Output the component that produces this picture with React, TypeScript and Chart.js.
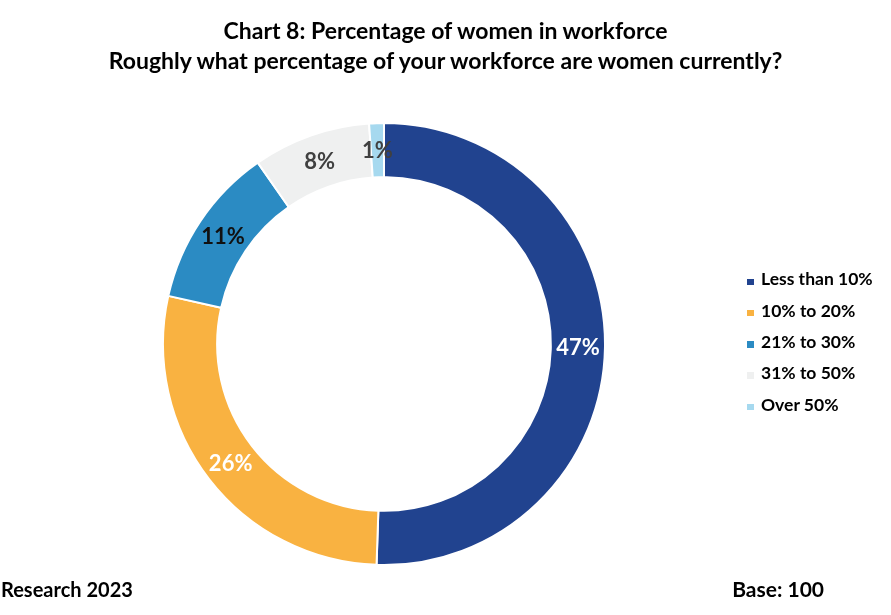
import React, { useEffect, useRef } from "react";
import { Chart, registerables } from "chart.js";

Chart.register(...registerables);

const categories = ["Less than 10%", "10% to 20%", "21% to 30%", "31% to 50%", "Over 50%"];
const values = [47, 26, 11, 8, 1];
const colors = ["#21438F", "#F9B241", "#2B8BC3", "#EFF0F0", "#A6D9EF"];
const labelColors = ["#FFFFFF", "#FFFFFF", "#111111", "#404040", "#404040"];
const titleLines = [
  "Chart 8: Percentage of women in workforce",
  "Roughly what percentage of your workforce are women currently?",
];
const sourceText = "Research 2023";
const baseText = "Base: 100";

const FONT = "Lato, 'Open Sans', sans-serif";

const sliceLabels = {
  id: "sliceLabels",
  afterDatasetsDraw(chart: any) {
    const ctx = chart.ctx;
    const meta = chart.getDatasetMeta(0);
    ctx.save();
    ctx.font = `bold 22px ${FONT}`;
    ctx.textAlign = "center";
    ctx.textBaseline = "middle";
    meta.data.forEach((arc: any, i: number) => {
      const p = arc.tooltipPosition(true);
      ctx.fillStyle = labelColors[i];
      ctx.fillText(`${values[i]}%`, p.x, p.y + 1);
    });
    ctx.restore();
  },
};

export default function App() {
  const ref = useRef<HTMLCanvasElement | null>(null);

  useEffect(() => {
    if (!ref.current) return;
    const chart = new Chart(ref.current, {
      type: "doughnut",
      data: {
        labels: categories,
        datasets: [
          {
            data: values,
            backgroundColor: colors,
            borderColor: "#FFFFFF",
            borderWidth: 2,
          },
        ],
      },
      options: {
        responsive: false,
        maintainAspectRatio: false,
        animation: false,
        cutout: "75.5%",
        layout: { padding: { left: 162, right: 285, top: 122, bottom: 49 } },
        plugins: {
          legend: { display: false },
          title: { display: false },
          tooltip: { enabled: false },
        },
      },
      plugins: [sliceLabels],
    });
    return () => chart.destroy();
  }, []);

  const textBase: React.CSSProperties = {
    position: "absolute",
    fontFamily: FONT,
    fontWeight: 700,
    color: "#000",
    whiteSpace: "nowrap",
  };

  return (
    <div style={{ position: "absolute", left: 0, top: 0, width: 891, height: 615, background: "#fff" }}>
      <canvas ref={ref} width={891} height={615} style={{ position: "absolute", left: 0, top: 0 }} />
      <div style={{ ...textBase, left: 0, width: 891, top: 14.8, textAlign: "center", fontSize: 23, lineHeight: "30.5px" }}>
        {titleLines.map((t, i) => (
          <div key={i}>{t}</div>
        ))}
      </div>
      {categories.map((c, i) => (
        <React.Fragment key={c}>
          <div
            style={{
              position: "absolute",
              left: 747,
              top: 278.5 + i * 31.3,
              width: 6.5,
              height: 6.5,
              background: colors[i],
            }}
          />
          <div style={{ ...textBase, left: 761, top: 268.4 + i * 31.3, fontSize: 17.5, lineHeight: "21px" }}>{c}</div>
        </React.Fragment>
      ))}
      <div style={{ ...textBase, left: 1, top: 577, fontSize: 20, lineHeight: "24px" }}>{sourceText}</div>
      <div style={{ ...textBase, right: 67, top: 577, fontSize: 21, lineHeight: "24px" }}>{baseText}</div>
    </div>
  );
}
